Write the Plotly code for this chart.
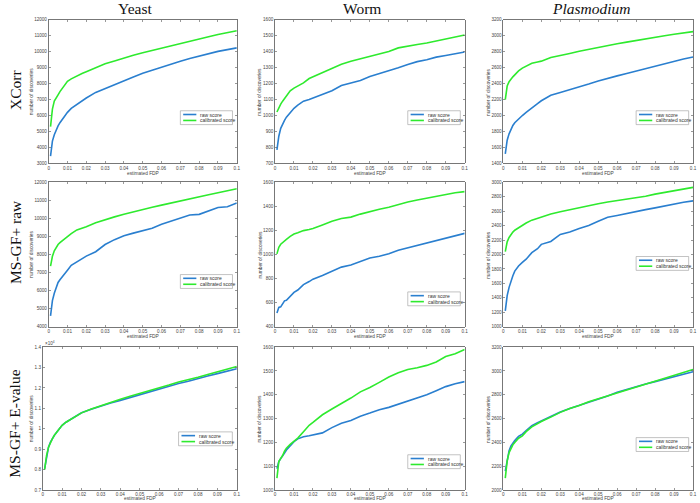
import plotly.graph_objects as go

fdp = [0.001, 0.002, 0.003, 0.004, 0.005, 0.006, 0.008, 0.01, 0.012, 0.015, 0.018, 0.02, 0.025, 0.03,
       0.035, 0.04, 0.045, 0.05, 0.055, 0.06, 0.065, 0.07, 0.075, 0.08, 0.085, 0.09, 0.095, 0.1]

columns = ["Yeast", "Worm", "<i>Plasmodium</i>"]
rows = ["XCorr", "MS-GF+ raw", "MS-GF+ E-value"]
series_names = ["raw score", "calibrated score"]

# XCorr
xcorr_yeast_raw = [3450, 4400, 4800, 5100, 5350, 5550, 5900, 6200, 6450, 6700, 6950, 7100, 7450, 7700,
                   7950, 8200, 8420, 8650, 8850, 9020, 9200, 9400, 9570, 9720, 9880, 10020, 10130, 10240]
xcorr_yeast_cal = [5300, 6400, 6900, 7150, 7300, 7500, 7850, 8150, 8300, 8500, 8650, 8750, 9000, 9250,
                   9420, 9620, 9780, 9930, 10080, 10230, 10380, 10530, 10670, 10800, 10940, 11080, 11200, 11320]
xcorr_worm_raw = [785, 870, 920, 950, 970, 990, 1020, 1045, 1065, 1090, 1100, 1110, 1135, 1155,
                  1188, 1205, 1220, 1245, 1265, 1282, 1300, 1320, 1338, 1350, 1366, 1376, 1387, 1398]
xcorr_worm_cal = [1022, 1050, 1072, 1090, 1107, 1122, 1155, 1172, 1185, 1205, 1232, 1242, 1272, 1295,
                  1322, 1340, 1355, 1370, 1387, 1402, 1424, 1436, 1445, 1455, 1468, 1482, 1495, 1505]
xcorr_plas_raw = [1520, 1690, 1770, 1830, 1875, 1910, 1960, 2000, 2040, 2100, 2150, 2185, 2255, 2290,
                  2322, 2358, 2395, 2433, 2468, 2497, 2527, 2558, 2590, 2620, 2651, 2682, 2708, 2735]
xcorr_plas_cal = [2200, 2370, 2425, 2460, 2485, 2510, 2560, 2595, 2620, 2655, 2672, 2682, 2728, 2750,
                  2778, 2805, 2830, 2855, 2878, 2900, 2920, 2938, 2955, 2975, 3000, 3020, 3038, 3052]

# MS-GF+ raw
msraw_yeast_raw = [4600, 5450, 5850, 6150, 6450, 6600, 6900, 7130, 7400, 7600, 7800, 7910, 8150, 8550,
                   8820, 9030, 9180, 9330, 9450, 9670, 9830, 10000, 10180, 10220, 10400, 10600, 10640, 10850]
msraw_yeast_cal = [7350, 7900, 8200, 8400, 8550, 8650, 8820, 9000, 9150, 9360, 9450, 9540, 9760, 9940,
                   10080, 10220, 10360, 10490, 10610, 10730, 10840, 10940, 11040, 11180, 11300, 11420, 11530, 11640]
msraw_worm_raw = [515, 560, 565, 590, 615, 620, 655, 685, 705, 750, 775, 795, 825, 862,
                  895, 912, 940, 970, 985, 1005, 1035, 1055, 1072, 1090, 1110, 1132, 1152, 1175]
msraw_worm_cal = [1005, 1060, 1085, 1100, 1112, 1125, 1150, 1170, 1180, 1198, 1208, 1216, 1245, 1275,
                  1298, 1310, 1335, 1358, 1375, 1392, 1415, 1435, 1452, 1467, 1485, 1502, 1512, 1522]
msraw_plas_raw = [1220, 1430, 1545, 1640, 1705, 1770, 1840, 1890, 1935, 2025, 2080, 2140, 2180, 2278,
                  2310, 2360, 2400, 2460, 2515, 2540, 2570, 2598, 2620, 2645, 2672, 2700, 2722, 2742]
msraw_plas_cal = [2040, 2175, 2235, 2280, 2310, 2335, 2370, 2405, 2435, 2475, 2500, 2515, 2560, 2590,
                  2620, 2652, 2680, 2702, 2725, 2745, 2762, 2780, 2805, 2835, 2858, 2880, 2905, 2928]

# MS-GF+ E-value
msev_yeast_raw = [8050, 8700, 9100, 9350, 9520, 9680, 9930, 10170, 10320, 10500, 10680, 10780, 10960, 11120,
                  11260, 11390, 11530, 11660, 11790, 11930, 12080, 12220, 12330, 12440, 12580, 12700, 12820, 12940]
msev_yeast_cal = [8000, 8700, 9100, 9350, 9520, 9680, 9930, 10170, 10320, 10500, 10680, 10780, 10970, 11140,
                  11300, 11450, 11590, 11720, 11850, 11980, 12140, 12290, 12400, 12520, 12660, 12800, 12920, 13050]
msev_worm_raw = [1090, 1120, 1132, 1142, 1155, 1168, 1186, 1203, 1215, 1224, 1228, 1231, 1240, 1262,
                 1280, 1292, 1310, 1323, 1337, 1347, 1360, 1372, 1385, 1400, 1417, 1434, 1446, 1455]
msev_worm_cal = [1050, 1120, 1133, 1145, 1163, 1176, 1192, 1205, 1218, 1245, 1272, 1284, 1316, 1340,
                 1362, 1386, 1412, 1430, 1452, 1474, 1492, 1506, 1513, 1523, 1537, 1560, 1572, 1590]
msev_plas_raw = [2160, 2265, 2330, 2370, 2395, 2415, 2450, 2470, 2500, 2540, 2565, 2580, 2615, 2655,
                 2685, 2710, 2740, 2765, 2790, 2820, 2845, 2868, 2890, 2910, 2932, 2952, 2972, 2993]
msev_plas_cal = [2100, 2245, 2315, 2355, 2380, 2400, 2435, 2455, 2490, 2530, 2558, 2575, 2612, 2652,
                 2685, 2710, 2742, 2766, 2790, 2818, 2842, 2865, 2887, 2910, 2938, 2962, 2985, 3012]

panels = [
    [(xcorr_yeast_raw, xcorr_yeast_cal), (xcorr_worm_raw, xcorr_worm_cal), (xcorr_plas_raw, xcorr_plas_cal)],
    [(msraw_yeast_raw, msraw_yeast_cal), (msraw_worm_raw, msraw_worm_cal), (msraw_plas_raw, msraw_plas_cal)],
    [(msev_yeast_raw, msev_yeast_cal), (msev_worm_raw, msev_worm_cal), (msev_plas_raw, msev_plas_cal)],
]

# y-axis ranges / tick steps per panel
y_ranges = [
    [(3000, 12000, 1000), (700, 1600, 100), (1400, 3200, 200)],
    [(4000, 12000, 1000), (400, 1600, 200), (1000, 3000, 200)],
    [(0.7, 1.4, 0.1), (1000, 1600, 100), (2000, 3200, 200)],
]
y_scale = [[1, 1, 1], [1, 1, 1], [1e4, 1, 1]]

# legend vertical placement (axis-domain fraction of box bottom)
legend_bottom = [[0.27, 0.27, 0.27], [0.265, 0.145, 0.39], [0.31, 0.15, 0.27]]

W, H = 700, 503
col_x = [[(48, 237.5), (276, 467), (506, 697)],
         [(48, 237.5), (276, 467), (506, 697)],
         [(42, 237.5), (276, 467), (506, 697)]]
row_y = [(18, 163), (182, 328), (348.5, 493)]

BLUE = "#2a7fcf"
GREEN = "#2eea2e"
AXC = "#555555"
TXT = "#444444"
TICKFONT = dict(family="Liberation Sans, Arial", size=4.6, color=TXT)

fig = go.Figure()
annotations = []
shapes = []

for r in range(3):
    for c in range(3):
        k = r * 3 + c + 1
        sfx = "" if k == 1 else str(k)
        raw, cal = panels[r][c]
        sc = y_scale[r][c]
        for vals, color, name in ((raw, BLUE, series_names[0]), (cal, GREEN, series_names[1])):
            fig.add_trace(go.Scatter(
                x=fdp, y=[v / sc for v in vals], mode="lines", name=name,
                line=dict(color=color, width=1.6), showlegend=False,
                xaxis="x" + sfx, yaxis="y" + sfx))
        x0, x1 = col_x[r][c]
        yt, yb = row_y[r]
        lo, hi, step = y_ranges[r][c]
        fig.layout["xaxis" + sfx] = dict(
            domain=[x0 / W, x1 / W], anchor="y" + sfx, range=[0, 0.1],
            tickmode="array", tickvals=[i / 100 for i in range(11)],
            ticktext=["0"] + ["0.%02d" % i for i in range(1, 10)] + ["0.1"],
            showline=True, linecolor=AXC, linewidth=0.8, mirror="ticks",
            ticks="inside", ticklen=2, tickcolor=AXC, tickwidth=0.6,
            showgrid=False, zeroline=False, tickfont=TICKFONT, fixedrange=True)
        nt = int(round((hi - lo) / step))
        fig.layout["yaxis" + sfx] = dict(
            domain=[1 - yb / H, 1 - yt / H], anchor="x" + sfx, range=[lo, hi],
            tickmode="array", tickvals=[lo + i * step for i in range(nt + 1)],
            ticktext=[("%g" % round(lo + i * step, 4)) for i in range(nt + 1)],
            showline=True, linecolor=AXC, linewidth=0.8, mirror="ticks",
            ticks="inside", ticklen=2, tickcolor=AXC, tickwidth=0.6,
            showgrid=False, zeroline=False, tickfont=TICKFONT, fixedrange=True)

        xd, yd = "x%s domain" % sfx, "y%s domain" % sfx
        # axis titles
        annotations.append(dict(text="estimated FDP", xref=xd, yref=yd, x=0.5, y=0,
                                yanchor="middle", yshift=(-8.5 if r == 2 else -10), showarrow=False,
                                font=dict(family="Liberation Sans, Arial", size=4.8, color=TXT)))
        ylab_shift = -11 if (r == 2 and c == 0) else (-17 if c == 0 else -15)
        annotations.append(dict(text="number of discoveries", xref=xd, yref=yd, x=0, y=0.5,
                                xanchor="center", xshift=ylab_shift, textangle=-90, showarrow=False,
                                font=dict(family="Liberation Sans, Arial", size=4.8, color=TXT)))
        # legend box
        lb = legend_bottom[r][c]
        lh = 14 / (yb - yt)
        lx0, lx1 = 0.70, 0.977
        shapes.append(dict(type="rect", xref=xd, yref=yd, x0=lx0, x1=lx1, y0=lb, y1=lb + lh,
                           line=dict(color="#9a9a9a", width=0.6), fillcolor="white", layer="above"))
        for j, (color, name) in enumerate(((BLUE, series_names[0]), (GREEN, series_names[1]))):
            yy = lb + lh * (0.73 if j == 0 else 0.3)
            shapes.append(dict(type="line", xref=xd, yref=yd, x0=lx0 + 0.015, x1=lx0 + 0.085,
                               y0=yy, y1=yy, line=dict(color=color, width=1.6), layer="above"))
            annotations.append(dict(text=name, xref=xd, yref=yd, x=lx0 + 0.095, y=yy,
                                    xanchor="left", yanchor="middle", showarrow=False,
                                    font=dict(family="Liberation Sans, Arial", size=5, color="#333")))
        if r == 2 and c == 0:
            annotations.append(dict(text="×10<sup>4</sup>", xref=xd, yref=yd, x=0, y=1,
                                    xanchor="left", yanchor="bottom", xshift=0, yshift=-1,
                                    showarrow=False,
                                    font=dict(family="Liberation Sans, Arial", size=4.6, color=TXT)))

SERIF = "Liberation Serif, DejaVu Serif, serif"
title_x = [135, 364, 595]
for c, t in enumerate(columns):
    annotations.append(dict(text=t, xref="paper", yref="paper", x=title_x[c] / W, y=1 - 7 / H,
                            xanchor="center", yanchor="middle", showarrow=False,
                            font=dict(family=SERIF, size=15.5, color="#111")))
row_cy = [89, 242.5, 426]
for r, t in enumerate(rows):
    annotations.append(dict(text=t, xref="paper", yref="paper", x=14 / W, y=1 - row_cy[r] / H,
                            xanchor="center", yanchor="middle", textangle=-90, showarrow=False,
                            font=dict(family=SERIF, size=15.5, color="#111")))

fig.update_layout(width=W, height=H, margin=dict(l=0, r=0, t=0, b=0),
                  paper_bgcolor="white", plot_bgcolor="white",
                  annotations=annotations, shapes=shapes, showlegend=False)

fig.write_html("out.html", config={"displayModeBar": False, "staticPlot": True},
               post_script="document.body.style.margin='0';document.body.style.padding='0';"
                           "document.body.style.overflow='hidden';")
